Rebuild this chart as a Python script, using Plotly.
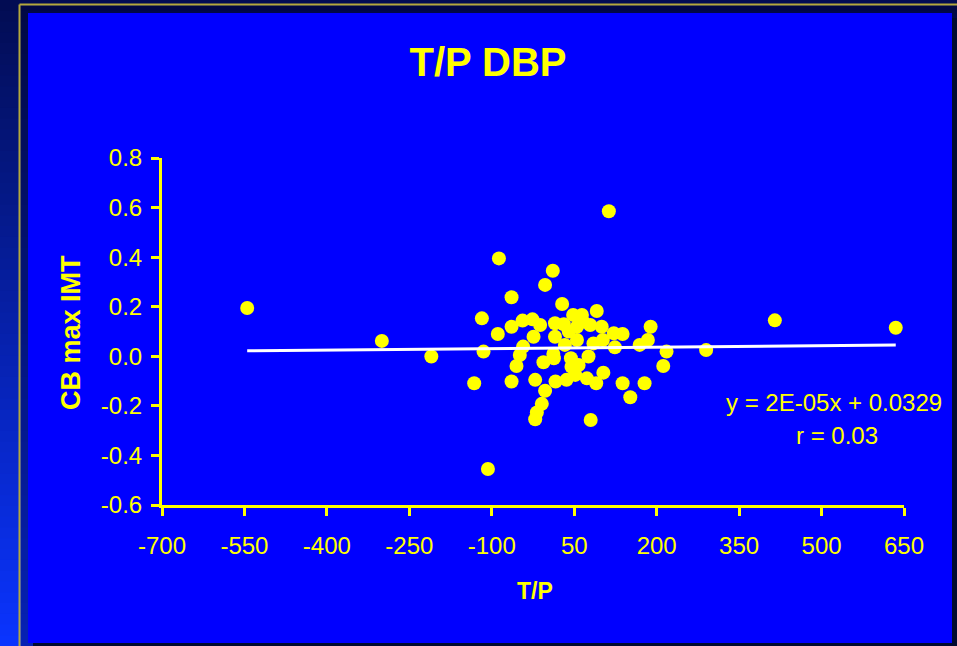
import plotly.graph_objects as go

# ---------------- data ----------------
tp_x = [-545, -300, -210, -132, -118, -115, -107, -89, -87, -64, -64, -64, -55, -49,
        -44, -43, -26, -24, -21, -21, -18, -12, -9, -6, -3, -3, 11, 12, 13, 15, 15,
        16, 28, 31, 33, 36, 40, 44, 45, 48, 52, 55, 55, 58, 64, 66, 73, 76, 79, 80,
        85, 90, 91, 100, 102, 103, 113, 122, 124, 138, 138, 152, 169, 178, 184, 189,
        212, 218, 290, 415, 635]
cb_imt = [0.195, 0.062, -0.001, -0.109, 0.153, 0.019, -0.455, 0.090, 0.395, 0.238,
          0.119, -0.102, -0.039, 0.005, 0.144, 0.039, 0.149, 0.079, -0.095, -0.254,
          -0.227, 0.126, -0.192, -0.024, 0.288, -0.139, 0.345, 0.009, -0.008, 0.133,
          0.079, -0.102, 0.211, 0.129, 0.046, -0.095, 0.100, -0.008, -0.042, 0.167,
          -0.075, 0.119, 0.066, -0.035, 0.167, 0.140, -0.089, -0.001, 0.126, -0.257,
          0.052, -0.109, 0.183, 0.119, 0.066, -0.066, 0.585, 0.093, 0.036, 0.090,
          -0.109, -0.165, 0.046, -0.109, 0.066, 0.119, -0.039, 0.019, 0.025, 0.145,
          0.115]

SLOPE = 2e-05
INTERCEPT = 0.0329
R_VALUE = 0.03

x_tickvals = [-700, -550, -400, -250, -100, 50, 200, 350, 500, 650]
x_ticktext = ["-700", "-550", "-400", "-250", "-100", "50", "200", "350", "500", "650"]
y_tickvals = [-0.6, -0.4, -0.2, 0.0, 0.2, 0.4, 0.6, 0.8]
y_ticktext = ["-0.6", "-0.4", "-0.2", "0.0", "0.2", "0.4", "0.6", "0.8"]

# ---------------- layout helpers ----------------
W, H = 957, 646
L, R, T, B = 162, 904, 158, 505  # plot area in px

def px_x(p):
    return (p - L) / (R - L)

def px_y(p):
    return (B - p) / (B - T)

FONT = "Liberation Sans, Arial, sans-serif"
YEL = "#FFFF00"

shapes = []
# background vertical gradient
N = 60
top = (2, 12, 82)
bot = (10, 52, 255)
for i in range(N):
    f = (i + 0.5) / N
    c = tuple(int(round(top[k] + (bot[k] - top[k]) * f)) for k in range(3))
    shapes.append(dict(type="rect", xref="paper", yref="paper", layer="below",
                       x0=px_x(0), x1=px_x(W), y0=px_y(i * H / N), y1=px_y((i + 1) * H / N + 1),
                       fillcolor="rgb(%d,%d,%d)" % c, line=dict(width=0)))
# dark band inside frame
shapes.append(dict(type="rect", xref="paper", yref="paper", layer="below",
                   x0=px_x(21), x1=px_x(W), y0=px_y(6), y1=px_y(H),
                   fillcolor="rgba(0,0,40,0.35)", line=dict(width=0)))
# yellow frame lines
shapes.append(dict(type="line", xref="paper", yref="paper", layer="below",
                   x0=px_x(19.5), x1=px_x(W), y0=px_y(4.5), y1=px_y(4.5),
                   line=dict(color="#b4a83c", width=2)))
shapes.append(dict(type="line", xref="paper", yref="paper", layer="below",
                   x0=px_x(19.5), x1=px_x(19.5), y0=px_y(4.5), y1=px_y(H),
                   line=dict(color="#b4a83c", width=2)))
# shadow
shapes.append(dict(type="rect", xref="paper", yref="paper", layer="below",
                   x0=px_x(952), x1=px_x(W), y0=px_y(18), y1=px_y(H),
                   fillcolor="#000a30", line=dict(width=0)))
shapes.append(dict(type="rect", xref="paper", yref="paper", layer="below",
                   x0=px_x(33), x1=px_x(W), y0=px_y(643), y1=px_y(H),
                   fillcolor="#000a30", line=dict(width=0)))
# blue panel
shapes.append(dict(type="rect", xref="paper", yref="paper", layer="below",
                   x0=px_x(28), x1=px_x(952), y0=px_y(13), y1=px_y(643),
                   fillcolor="#0000FF", line=dict(width=0)))

# ---------------- traces ----------------
fig = go.Figure()
fig.add_trace(go.Scatter(x=tp_x, y=cb_imt, mode="markers",
                         marker=dict(color=YEL, size=14, line=dict(width=0)),
                         showlegend=False, hoverinfo="x+y"))
x_line = [min(tp_x), max(tp_x)]
y_line = [SLOPE * v + INTERCEPT for v in x_line]
fig.add_trace(go.Scatter(x=x_line, y=y_line, mode="lines",
                         line=dict(color="white", width=3),
                         showlegend=False, hoverinfo="skip"))

annotations = [
    dict(text="<b>CB max IMT</b>", xref="paper", yref="paper", x=px_x(71), y=px_y(333),
         textangle=-90, showarrow=False, xanchor="center", yanchor="middle",
         font=dict(family=FONT, size=27, color=YEL)),
    dict(text="<b>T/P</b>", xref="paper", yref="paper", x=px_x(535), y=px_y(591),
         showarrow=False, xanchor="center", yanchor="middle",
         font=dict(family=FONT, size=23, color=YEL)),
    dict(text="y = 2E-05x + 0.0329", xref="paper", yref="paper", x=px_x(834), y=px_y(402),
         showarrow=False, xanchor="center", yanchor="middle",
         font=dict(family=FONT, size=24, color=YEL)),
    dict(text="r = %.2f" % R_VALUE, xref="paper", yref="paper", x=px_x(837), y=px_y(435),
         showarrow=False, xanchor="center", yanchor="middle",
         font=dict(family=FONT, size=24, color=YEL)),
]

fig.update_layout(
    width=W, height=H, autosize=False,
    margin=dict(l=L, r=W - R, t=T, b=H - B, pad=0),
    paper_bgcolor="#020c52", plot_bgcolor="rgba(0,0,0,0)",
    title=dict(text="<b>T/P DBP</b>", x=488 / W, xref="container", xanchor="center",
               y=1 - 62 / H, yref="container", yanchor="middle",
               font=dict(family=FONT, size=40, color=YEL)),
    shapes=shapes, annotations=annotations,
    xaxis=dict(range=[-700, 650], tickvals=x_tickvals, ticktext=x_ticktext,
               showline=True, linecolor=YEL, linewidth=3,
               ticks="outside", ticklen=8, tickwidth=3, tickcolor=YEL,
               showgrid=False, zeroline=False, ticklabelstandoff=9,
               tickfont=dict(family=FONT, size=24, color=YEL), fixedrange=True),
    yaxis=dict(range=[-0.6, 0.8], tickvals=y_tickvals, ticktext=y_ticktext,
               showline=True, linecolor=YEL, linewidth=3,
               ticks="outside", ticklen=8, tickwidth=3, tickcolor=YEL,
               showgrid=False, zeroline=False, ticklabelstandoff=4,
               tickfont=dict(family=FONT, size=24, color=YEL), fixedrange=True),
    showlegend=False,
)

fig.write_html("out.html", config={"displayModeBar": False},
               post_script="document.body.style.margin='0';document.body.style.overflow='hidden';")
